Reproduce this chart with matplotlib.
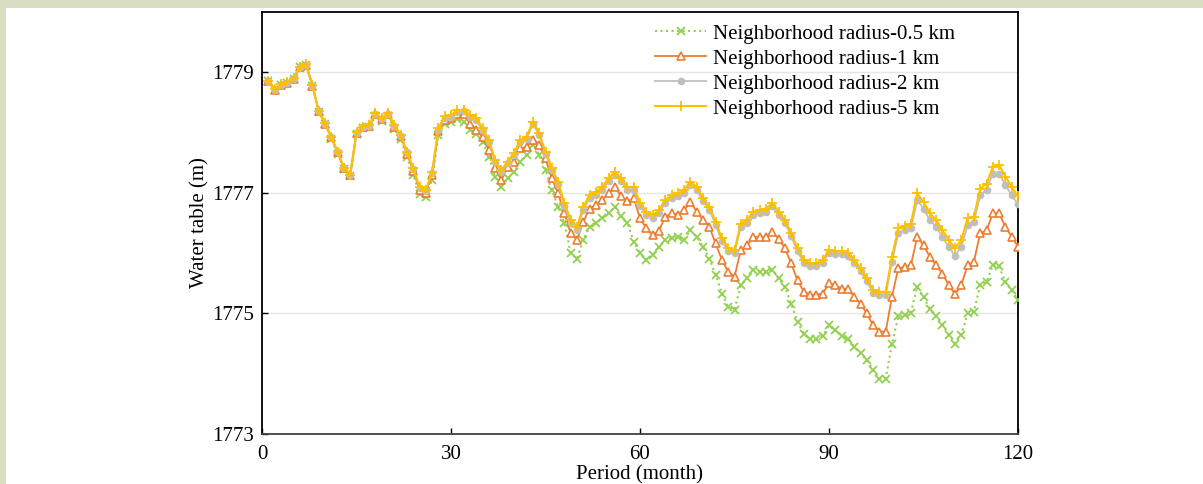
import matplotlib
matplotlib.use("Agg")
import matplotlib.pyplot as plt
from matplotlib.patches import Rectangle

months = list(range(1, 121))

r05 = [1778.86, 1778.71, 1778.79, 1778.83, 1778.89, 1779.08, 1779.12, 1778.78, 1778.34, 1778.14,
       1777.90, 1777.65, 1777.39, 1777.28, 1777.98, 1778.07, 1778.09, 1778.27, 1778.19, 1778.27,
       1778.06, 1777.90, 1777.60, 1777.30, 1776.98, 1776.93, 1777.22, 1777.96, 1778.14, 1778.17,
       1778.22, 1778.18, 1778.05, 1777.98, 1777.85, 1777.60, 1777.27, 1777.10, 1777.24, 1777.35,
       1777.52, 1777.63, 1777.80, 1777.63, 1777.38, 1777.05, 1776.77, 1776.50, 1776.00, 1775.91,
       1776.22, 1776.44, 1776.50, 1776.58, 1776.66, 1776.77, 1776.61, 1776.50, 1776.19, 1776.00,
       1775.89, 1775.97, 1776.10, 1776.22, 1776.25, 1776.27, 1776.22, 1776.38, 1776.27, 1776.11,
       1775.91, 1775.64, 1775.33, 1775.11, 1775.06, 1775.47, 1775.58, 1775.72, 1775.69, 1775.69,
       1775.72, 1775.58, 1775.44, 1775.16, 1774.86, 1774.66, 1774.58, 1774.58, 1774.63, 1774.80,
       1774.72, 1774.63, 1774.58, 1774.45, 1774.34, 1774.23, 1774.06, 1773.92, 1773.92, 1774.50,
       1774.95, 1774.97, 1775.01, 1775.44, 1775.28, 1775.07, 1774.95, 1774.81, 1774.65, 1774.50,
       1774.65, 1775.00, 1775.03, 1775.47, 1775.52, 1775.80, 1775.78, 1775.52, 1775.39, 1775.22]

r1 = [1778.85, 1778.71, 1778.79, 1778.83, 1778.89, 1779.08, 1779.12, 1778.78, 1778.35, 1778.15,
      1777.92, 1777.67, 1777.41, 1777.29, 1778.00, 1778.09, 1778.11, 1778.30, 1778.22, 1778.30,
      1778.10, 1777.94, 1777.65, 1777.37, 1777.05, 1777.00, 1777.30, 1778.02, 1778.21, 1778.24,
      1778.30, 1778.30, 1778.15, 1778.04, 1777.93, 1777.71, 1777.41, 1777.21, 1777.43, 1777.52,
      1777.74, 1777.76, 1777.88, 1777.80, 1777.57, 1777.24, 1776.99, 1776.66, 1776.33, 1776.22,
      1776.52, 1776.74, 1776.80, 1776.88, 1776.99, 1777.10, 1776.94, 1776.86, 1776.91, 1776.58,
      1776.41, 1776.30, 1776.37, 1776.60, 1776.66, 1776.64, 1776.71, 1776.85, 1776.69, 1776.55,
      1776.44, 1776.16, 1775.89, 1775.69, 1775.61, 1776.05, 1776.13, 1776.27, 1776.27, 1776.27,
      1776.35, 1776.24, 1776.08, 1775.83, 1775.55, 1775.36, 1775.31, 1775.31, 1775.33, 1775.50,
      1775.47, 1775.41, 1775.41, 1775.27, 1775.16, 1775.00, 1774.80, 1774.70, 1774.70, 1775.28,
      1775.75, 1775.77, 1775.80, 1776.27, 1776.13, 1775.94, 1775.80, 1775.66, 1775.47, 1775.32,
      1775.47, 1775.80, 1775.86, 1776.33, 1776.38, 1776.66, 1776.66, 1776.44, 1776.27, 1776.11]

r2 = [1778.85, 1778.71, 1778.79, 1778.83, 1778.89, 1779.08, 1779.12, 1778.78, 1778.35, 1778.15,
      1777.92, 1777.67, 1777.41, 1777.29, 1778.00, 1778.09, 1778.11, 1778.31, 1778.23, 1778.31,
      1778.11, 1777.95, 1777.67, 1777.40, 1777.08, 1777.03, 1777.33, 1778.04, 1778.24, 1778.26,
      1778.34, 1778.35, 1778.26, 1778.21, 1778.04, 1777.85, 1777.51, 1777.35, 1777.49, 1777.63,
      1777.85, 1777.90, 1778.14, 1777.96, 1777.65, 1777.38, 1777.15, 1776.79, 1776.50, 1776.39,
      1776.72, 1776.91, 1776.97, 1777.05, 1777.19, 1777.30, 1777.19, 1777.05, 1777.05, 1776.78,
      1776.64, 1776.58, 1776.66, 1776.83, 1776.91, 1776.94, 1777.00, 1777.13, 1777.05, 1776.86,
      1776.72, 1776.47, 1776.20, 1776.03, 1776.00, 1776.44, 1776.50, 1776.64, 1776.66, 1776.69,
      1776.78, 1776.64, 1776.50, 1776.28, 1776.03, 1775.84, 1775.78, 1775.78, 1775.84, 1776.00,
      1775.98, 1775.98, 1775.95, 1775.84, 1775.70, 1775.53, 1775.34, 1775.31, 1775.31, 1775.86,
      1776.33, 1776.38, 1776.41, 1776.88, 1776.74, 1776.55, 1776.44, 1776.27, 1776.11, 1775.95,
      1776.11, 1776.46, 1776.52, 1776.96, 1777.05, 1777.32, 1777.32, 1777.13, 1776.96, 1776.81]

r5 = [1778.86, 1778.72, 1778.80, 1778.84, 1778.90, 1779.09, 1779.13, 1778.79, 1778.36, 1778.16,
      1777.93, 1777.68, 1777.42, 1777.30, 1778.01, 1778.10, 1778.12, 1778.32, 1778.24, 1778.32,
      1778.12, 1777.96, 1777.68, 1777.41, 1777.10, 1777.05, 1777.35, 1778.07, 1778.27, 1778.29,
      1778.37, 1778.38, 1778.29, 1778.24, 1778.07, 1777.88, 1777.54, 1777.38, 1777.52, 1777.66,
      1777.88, 1777.93, 1778.18, 1777.99, 1777.68, 1777.41, 1777.18, 1776.83, 1776.55, 1776.44,
      1776.77, 1776.96, 1777.02, 1777.10, 1777.24, 1777.35, 1777.24, 1777.10, 1777.10, 1776.83,
      1776.69, 1776.63, 1776.71, 1776.88, 1776.96, 1776.99, 1777.05, 1777.18, 1777.10, 1776.91,
      1776.77, 1776.52, 1776.25, 1776.08, 1776.05, 1776.49, 1776.55, 1776.69, 1776.71, 1776.74,
      1776.83, 1776.69, 1776.55, 1776.33, 1776.08, 1775.89, 1775.83, 1775.83, 1775.89, 1776.05,
      1776.03, 1776.03, 1776.00, 1775.89, 1775.75, 1775.58, 1775.39, 1775.36, 1775.36, 1775.94,
      1776.41, 1776.45, 1776.49, 1776.99, 1776.85, 1776.66, 1776.55, 1776.38, 1776.22, 1776.08,
      1776.22, 1776.58, 1776.60, 1777.07, 1777.15, 1777.43, 1777.46, 1777.27, 1777.10, 1776.94]

labels = ["Neighborhood radius-0.5 km", "Neighborhood radius-1 km",
          "Neighborhood radius-2 km", "Neighborhood radius-5 km"]
xticks = [0, 30, 60, 90, 120]
yticks = [1773, 1775, 1777, 1779]

plt.rcParams['font.family'] = ['Liberation Serif', 'DejaVu Serif']

W, H = 1203, 484
fig = plt.figure(figsize=(W / 100, H / 100), dpi=100)
fig.patch.set_facecolor('white')
band = '#d9e0c2'
fig.patches.append(Rectangle((0, 1 - 8 / H), 1, 8 / H, transform=fig.transFigure,
                             facecolor=band, edgecolor='none', zorder=-10))
fig.patches.append(Rectangle((0, 0), 6 / W, 1, transform=fig.transFigure,
                             facecolor=band, edgecolor='none', zorder=-10))

ax = fig.add_axes([262 / W, 1 - 434 / H, (1018 - 262) / W, (434 - 12) / H])

ax.plot(months, r05, color='#92d050', linestyle=':', linewidth=1.5, marker='x',
        markersize=6, markeredgewidth=1.3, label=labels[0], zorder=3)
ax.plot(months, r1, color='#ed7d31', linestyle='-', linewidth=1.3, marker='^',
        markersize=6, markerfacecolor='white', markeredgewidth=1.2, label=labels[1], zorder=4)
ax.plot(months, r2, color='#bfbfbf', linestyle='-', linewidth=1.3, marker='o',
        markersize=5.5, markeredgewidth=0, label=labels[2], zorder=5)
ax.plot(months, r5, color='#ffc000', linestyle='-', linewidth=1.5, marker='+',
        markersize=7.5, markeredgewidth=1.3, label=labels[3], zorder=6)

ax.set_xlim(0, 120)
ax.set_ylim(1773, 1780)
ax.set_xticks(xticks)
ax.set_yticks(yticks)
ax.yaxis.grid(True, color='#e6e6e6', linewidth=1)
ax.set_axisbelow(True)
ax.tick_params(axis='both', direction='in', length=4, width=1, labelsize=15)
ax.tick_params(axis='x', pad=8)
ax.tick_params(axis='y', pad=6)
for s in ax.spines.values():
    s.set_linewidth(1.3)
    s.set_color('black')
ax.spines['bottom'].set_color('#404040')
ax.set_xlabel('Period (month)', fontsize=15, labelpad=1)
ax.set_ylabel('Water table (m)', fontsize=15, labelpad=2)

ax.legend(loc='upper left', bbox_to_anchor=(655 / W, 1 - 24 / H),
          bbox_transform=fig.transFigure, frameon=False, fontsize=15,
          handlelength=2.45, handletextpad=0.34, labelspacing=0.26,
          borderpad=0, borderaxespad=0)

fig.savefig('out.png', dpi=100)
